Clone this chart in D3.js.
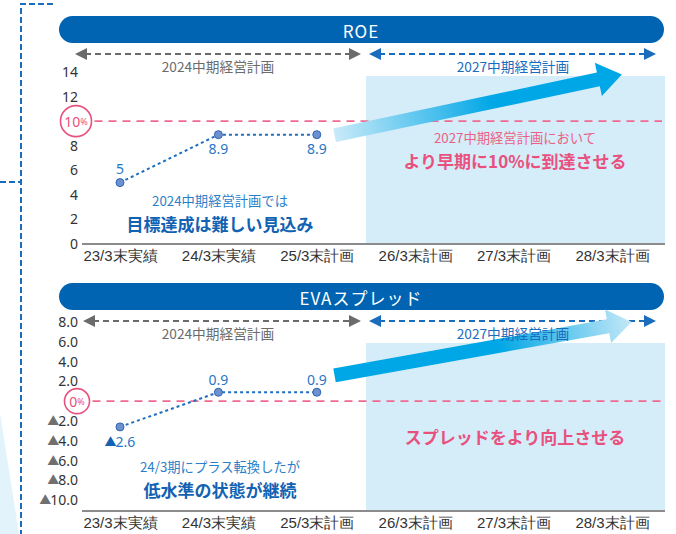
<!DOCTYPE html>
<html>
<head>
<meta charset="utf-8">
<script src="https://cdn.jsdelivr.net/npm/d3@7"></script>
<style>
  body { margin: 0; background: #fff; }
  svg { font-family: "Noto Sans CJK JP", "Noto Sans", sans-serif; }
</style>
</head>
<body>
<svg width="676" height="534"></svg>
<script>
// categories shared by both panels
const categories = ["23/3末実績", "24/3末実績", "25/3末計画", "26/3末計画", "27/3末計画", "28/3末計画"];

// ROE (%)
const roeValues = [5, 8.9, 8.9];
const roeTicks = [0, 2, 4, 6, 8, 12, 14];
const roeTarget = 10;

// EVAスプレッド (%)
const evaValues = [-2.6, 0.9, 0.9];
const evaTicks = [8, 6, 4, 2, -2, -4, -6, -8, -10];
const evaTarget = 0;

const blue = "#0064b3", pink = "#e8517e", lineBlue = "#1f6fc0";

var svg = d3.select("svg");

var defs = svg.append("defs");
function grad(id, c1, c2) {
    var g = defs.append("linearGradient").attr("id", id)
        .attr("x1", "0%").attr("x2", "100%").attr("y1", "0%").attr("y2", "0%");
    g.append("stop").attr("offset", "0%").attr("stop-color", c1);
    g.append("stop").attr("offset", "55%").attr("stop-color", "#00a7e6");
    g.append("stop").attr("offset", "100%").attr("stop-color", c2);
}
grad("gradUp", "#c9eaf9", "#00a7e6");
grad("gradDown", "#00a7e6", "#c4e8f8");

// left decoration: dashed bracket + pale wedge
svg.append("path")
    .attr("d", "M0,413 L19,534 L0,534 Z")
    .attr("fill", "#e3f3fb");
svg.append("path")
    .attr("d", "M53,4 H21 V534 M0,182 H21")
    .attr("fill", "none")
    .attr("stroke", "#1a6cbd")
    .attr("stroke-width", 2)
    .attr("stroke-dasharray", "6,3");

var x = d3.scalePoint().domain(categories).range([120, 612]);
var xi = d3.scaleLinear().domain([0, categories.length - 1]).range([120, 612]);

function fmtEva(d) {
    return d < 0 ? "▲" + Math.abs(d).toFixed(1) : d.toFixed(1);
}

// negative numbers are written with a triangle in front
function triText(t, num, color) {
    t.text(null);
    t.append("tspan")
        .attr("fill", color).attr("font-size", "12px")
        .style("font-family", "'Noto Sans CJK JP', sans-serif")
        .text("▲");
    t.append("tspan").attr("dx", -1).text(num);
}

function dashedArrow(g, x1, x2, y, color) {
    g.append("line")
        .attr("x1", x1 + 10).attr("x2", x2 - 10).attr("y1", y).attr("y2", y)
        .attr("stroke", color).attr("stroke-width", 2).attr("stroke-dasharray", "6,4");
    g.append("path")
        .attr("d", "M" + x1 + "," + y + " l12,-6 v12 Z M" + x2 + "," + y + " l-12,-6 v12 Z")
        .attr("fill", color);
}

function bigArrow(g, p0, p1, fill) {
    var dx = p1[0] - p0[0], dy = p1[1] - p0[1];
    var len = Math.sqrt(dx * dx + dy * dy);
    var ang = Math.atan2(dy, dx) * 180 / Math.PI;
    var hl = 24, hw = 17, sw = 7;
    g.append("path")
        .attr("transform", "translate(" + p0[0] + "," + p0[1] + ") rotate(" + ang + ")")
        .attr("d", "M0," + (-sw) + " H" + (len - hl) + " V" + (-hw) + " L" + len + ",0 L" + (len - hl) + "," + hw +
            " V" + sw + " H0 Z")
        .attr("fill", fill);
}

function drawPanel(p) {
    var g = svg.append("g").attr("transform", "translate(0," + p.dy + ")");
    var y = d3.scaleLinear().domain(p.domain).range([p.bottom, p.top]);

    // header
    g.append("rect")
        .attr("x", 59).attr("y", 16).attr("width", 605).attr("height", 27)
        .attr("rx", 13.5).attr("fill", blue);
    g.append("text")
        .attr("x", 361).attr("y", 30).attr("text-anchor", "middle")
        .attr("dominant-baseline", "central")
        .attr("fill", "#fff").attr("font-size", "17px")
        .attr("letter-spacing", "1px")
        .text(p.title);

    // plan periods
    dashedArrow(g, p.arrowLeft, 361, 54, "#6b6b6b");
    dashedArrow(g, 369, 656, 54, "#1a6cbd");

    // shaded plan area
    g.append("rect")
        .attr("x", 366).attr("y", 76).attr("width", 299).attr("height", p.bottom - 76)
        .attr("fill", "#d5ecf9");

    g.append("text")
        .attr("x", 218).attr("y", 66).attr("text-anchor", "middle")
        .attr("dominant-baseline", "central")
        .attr("fill", "#6b6b6b").attr("font-size", "13.7px")
        .text("2024中期経営計画");

    // target line
    g.append("line")
        .attr("x1", p.circleX + p.circleR + 3).attr("x2", 662)
        .attr("y1", y(p.target)).attr("y2", y(p.target))
        .attr("stroke", "#ee6a90").attr("stroke-width", 1.6).attr("stroke-dasharray", "8,6");

    // big arrow
    bigArrow(g, [xi(p.arrow[0][0]), y(p.arrow[0][1])], [xi(p.arrow[1][0]), y(p.arrow[1][1])], p.arrowFill);

    g.append("text")
        .attr("x", 513).attr("y", 66).attr("text-anchor", "middle")
        .attr("dominant-baseline", "central")
        .attr("fill", "#1a6cbd").attr("font-size", "13.7px")
        .text("2027中期経営計画");

    // y axis
    var ya = g.append("g")
        .attr("transform", "translate(81,0)")
        .style("font-size", "14px")
        .call(d3.axisLeft(y).tickValues(p.ticks).tickSize(0).tickPadding(3).tickFormat(p.fmt));
    ya.select(".domain").remove();
    ya.selectAll("text").attr("fill", "#333").style("font-family", "'Noto Sans', sans-serif");
    if (p.neg) {
        ya.selectAll("text").each(function(d) {
            if (d < 0) triText(d3.select(this), Math.abs(d).toFixed(1), "#707070");
        });
    }

    // circled target label
    g.append("circle")
        .attr("cx", p.circleX).attr("cy", y(p.target)).attr("r", p.circleR)
        .attr("fill", "#fff").attr("stroke", pink).attr("stroke-width", 1.6);
    var ct = g.append("text")
        .attr("x", p.circleX).attr("y", y(p.target)).attr("text-anchor", "middle")
        .attr("dominant-baseline", "central")
        .attr("fill", pink).attr("font-size", "14px")
        .style("font-family", "'Noto Sans', sans-serif");
    ct.append("tspan").text(p.target);
    ct.append("tspan").attr("font-size", "9px").text("%");

    // x axis
    var xa = g.append("g")
        .attr("transform", "translate(0," + p.bottom + ")")
        .style("font-size", "15px")
        .call(d3.axisBottom(x).tickSize(0).tickPadding(6));
    xa.select(".domain").remove();
    xa.selectAll("text").attr("fill", "#333");
    g.append("line")
        .attr("x1", 82).attr("x2", 665).attr("y1", p.bottom).attr("y2", p.bottom)
        .attr("stroke", "#8c8c8c").attr("stroke-width", 2);

    // data line
    var line = d3.line()
        .x(function(d, i) { return x(categories[i]); })
        .y(function(d) { return y(d); });
    g.append("path")
        .datum(p.values)
        .attr("d", line)
        .attr("fill", "none")
        .attr("stroke", lineBlue).attr("stroke-width", 2).attr("stroke-dasharray", "3,3");
    g.selectAll(".pt")
        .data(p.values)
        .enter()
        .append("circle")
        .attr("class", "pt")
        .attr("cx", function(d, i) { return x(categories[i]); })
        .attr("cy", function(d) { return y(d); })
        .attr("r", 4)
        .attr("fill", "#6d91d0").attr("stroke", "#2d64b2").attr("stroke-width", 1);
    g.selectAll(".vl")
        .data(p.values)
        .enter()
        .append("text")
        .attr("class", "vl")
        .attr("x", function(d, i) { return x(categories[i]) + p.labelDx[i]; })
        .attr("y", function(d, i) { return y(d) + p.labelDy[i]; })
        .attr("text-anchor", "middle")
        .attr("dominant-baseline", "central")
        .attr("fill", "#2a76c4").attr("font-size", "14px")
        .style("font-family", "'Noto Sans', sans-serif")
        .each(function(d) {
            var t = d3.select(this);
            if (d < 0) triText(t, Math.abs(d), "#1262b3");
            else t.text(d);
        });

    // notes
    p.notes.forEach(function(n) {
        g.append("text")
            .attr("x", n.x).attr("y", n.y).attr("text-anchor", "middle")
            .attr("dominant-baseline", "central")
            .attr("fill", n.color).attr("font-size", n.bold ? "17px" : "13.3px")
            .attr("font-weight", n.bold ? "bold" : "normal")
            .text(n.text);
    });
}

drawPanel({
    dy: 0, title: "ROE",
    domain: [0, 14], top: 72, bottom: 244,
    ticks: roeTicks, target: roeTarget, values: roeValues,
    fmt: function(d) { return d; }, neg: false,
    circleX: 76, circleR: 15.5, arrowLeft: 75,
    labelDx: [0, 0, 0], labelDy: [-14, 14, 14],
    arrow: [[2.18, 8.85], [5.1, 13.8]], arrowFill: "url(#gradUp)",
    notes: [
        { x: 220, y: 200, text: "2024中期経営計画では", color: "#2a7fca" },
        { x: 220, y: 223, text: "目標達成は難しい見込み", color: "#1262b3", bold: true },
        { x: 515, y: 137, text: "2027中期経営計画において", color: "#ec5f86" },
        { x: 515, y: 160, text: "より早期に10%に到達させる", color: pink, bold: true }
    ]
});

drawPanel({
    dy: 267, title: "EVAスプレッド",
    domain: [-11.1, 8], top: 55, bottom: 244,
    ticks: evaTicks, target: evaTarget, values: evaValues,
    fmt: fmtEva, neg: true,
    circleX: 77, circleR: 12.5, arrowLeft: 83,
    labelDx: [0, 0, 0], labelDy: [14, -13, -13],
    arrow: [[2.18, 2.6], [5.2, 8.0]], arrowFill: "url(#gradDown)",
    notes: [
        { x: 220, y: 199, text: "24/3期にプラス転換したが", color: "#2a7fca" },
        { x: 220, y: 222, text: "低水準の状態が継続", color: "#1262b3", bold: true },
        { x: 515, y: 169, text: "スプレッドをより向上させる", color: pink, bold: true }
    ]
});
</script>
</body>
</html>
